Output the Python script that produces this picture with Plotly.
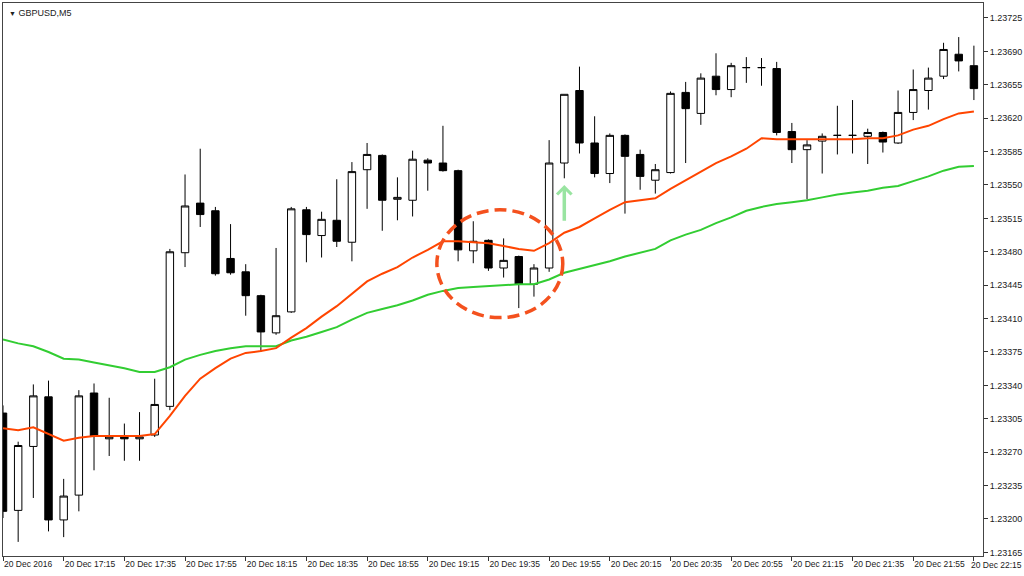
import plotly.graph_objects as go

# GBPUSD M5 bars, 20 Dec 2016 16:55 .. 22:15 (65 bars)
opens = [1.23311, 1.23209, 1.23276, 1.23328, 1.23199, 1.23225, 1.23332, 1.23284, 1.23286, 1.23284,
         1.23288, 1.23318, 1.23479, 1.23531, 1.23523, 1.23473, 1.23459, 1.23434, 1.23395, 1.23417,
         1.23524, 1.23497, 1.23513, 1.23490, 1.23566, 1.23581, 1.23535, 1.23534, 1.23576, 1.23573,
         1.23565, 1.23481, 1.23492, 1.23463, 1.23475, 1.23446, 1.23463, 1.23573, 1.23649, 1.23594,
         1.23562, 1.23602, 1.23582, 1.23555, 1.23563, 1.23647, 1.23625, 1.23664, 1.23650, 1.23673,
         1.23673, 1.23672, 1.23606, 1.23587, 1.23596, 1.23602, 1.23602, 1.23601, 1.23605, 1.23594,
         1.23626, 1.23649, 1.23664, 1.23687, 1.23675]
highs = [1.23319, 1.23281, 1.23341, 1.23345, 1.23242, 1.23335, 1.23342, 1.23327, 1.23300, 1.23312,
         1.23347, 1.23483, 1.23561, 1.23588, 1.23527, 1.23509, 1.23467, 1.23435, 1.23484, 1.23527,
         1.23527, 1.23522, 1.23556, 1.23574, 1.23594, 1.23582, 1.23558, 1.23586, 1.23578, 1.23612,
         1.23566, 1.23512, 1.23493, 1.23494, 1.23476, 1.23467, 1.23597, 1.23645, 1.23674, 1.23622,
         1.23604, 1.23603, 1.23587, 1.23572, 1.23648, 1.23658, 1.23667, 1.23688, 1.23678, 1.23684,
         1.23683, 1.23679, 1.23615, 1.23597, 1.23604, 1.23633, 1.23639, 1.23609, 1.23606, 1.23649,
         1.23671, 1.23673, 1.23699, 1.23705, 1.23696]
lows = [1.23201, 1.23176, 1.23222, 1.23187, 1.23181, 1.23208, 1.23251, 1.23266, 1.23261, 1.23261,
        1.23286, 1.23314, 1.23464, 1.23506, 1.23455, 1.23456, 1.23413, 1.23375, 1.23393, 1.23416,
        1.23469, 1.23474, 1.23485, 1.23470, 1.23525, 1.23502, 1.23513, 1.23517, 1.23544, 1.23564,
        1.23470, 1.23468, 1.23460, 1.23453, 1.23421, 1.23433, 1.23459, 1.23557, 1.23583, 1.23558,
        1.23552, 1.23520, 1.23545, 1.23541, 1.23562, 1.23573, 1.23613, 1.23644, 1.23642, 1.23657,
        1.23654, 1.23602, 1.23573, 1.23535, 1.23562, 1.23582, 1.23583, 1.23572, 1.23584, 1.23593,
        1.23618, 1.23629, 1.23661, 1.23669, 1.23639]
closes = [1.23208, 1.23277, 1.23329, 1.23199, 1.23224, 1.23329, 1.23287, 1.23286, 1.23284, 1.23286,
          1.23320, 1.23480, 1.23528, 1.23519, 1.23457, 1.23458, 1.23434, 1.23396, 1.23413, 1.23525,
          1.23498, 1.23514, 1.23491, 1.23564, 1.23582, 1.23534, 1.23537, 1.23577, 1.23573, 1.23565,
          1.23482, 1.23491, 1.23463, 1.23471, 1.23446, 1.23463, 1.23573, 1.23645, 1.23594, 1.23562,
          1.23602, 1.23580, 1.23559, 1.23566, 1.23646, 1.23630, 1.23662, 1.23650, 1.23675, 1.23673,
          1.23673, 1.23605, 1.23587, 1.23592, 1.23601, 1.23602, 1.23602, 1.23605, 1.23595, 1.23626,
          1.23650, 1.23662, 1.23692, 1.23680, 1.23651]

# fast (red) and slow (green) moving averages
ma_fast = [1.23295, 1.23293, 1.23296, 1.23289, 1.23282, 1.23285, 1.23287, 1.23287, 1.23287, 1.23287,
           1.23289, 1.23308, 1.23329, 1.23347, 1.23358, 1.23368, 1.23374, 1.23376, 1.23379, 1.23390,
           1.23400, 1.23412, 1.23423, 1.23436, 1.23449, 1.23457, 1.23464, 1.23474, 1.23482, 1.23491,
           1.23491, 1.23490, 1.23489, 1.23486, 1.23483, 1.23481, 1.23489, 1.23500, 1.23506, 1.23515,
           1.23524, 1.23532, 1.23534, 1.23536, 1.23546, 1.23555, 1.23564, 1.23573, 1.23580, 1.23588,
           1.23599, 1.23598, 1.23598, 1.23598, 1.23598, 1.23598, 1.23598, 1.23599, 1.23599, 1.23602,
           1.23608, 1.23612, 1.23619, 1.23625, 1.23627]
ma_slow = [1.23388, 1.23384, 1.23381, 1.23375, 1.23368, 1.23367, 1.23364, 1.23361, 1.23358, 1.23354,
           1.23354, 1.23359, 1.23367, 1.23372, 1.23376, 1.23379, 1.23381, 1.23381, 1.23381, 1.23387,
           1.23391, 1.23396, 1.23401, 1.23409, 1.23416, 1.23420, 1.23424, 1.23429, 1.23435, 1.23439,
           1.23442, 1.23443, 1.23444, 1.23445, 1.23446, 1.23446, 1.23451, 1.23458, 1.23462, 1.23466,
           1.23470, 1.23475, 1.23479, 1.23483, 1.23492, 1.23498, 1.23503, 1.23510, 1.23516, 1.23523,
           1.23527, 1.23530, 1.23532, 1.23534, 1.23537, 1.23540, 1.23542, 1.23544, 1.23547, 1.23549,
           1.23554, 1.23559, 1.23565, 1.23569, 1.23570]

tick_labels = ["20 Dec 2016", "20 Dec 17:15", "20 Dec 17:35", "20 Dec 17:55", "20 Dec 18:15",
               "20 Dec 18:35", "20 Dec 18:55", "20 Dec 19:15", "20 Dec 19:35", "20 Dec 19:55",
               "20 Dec 20:15", "20 Dec 20:35", "20 Dec 20:55", "20 Dec 21:15", "20 Dec 21:35",
               "20 Dec 21:55", "20 Dec 22:15"]

bars = list(range(len(opens)))
tick_pos = bars[::4]

# crossover highlight (circle) and signal arrow
circle_x = (28.6, 36.9)
circle_y = (1.23411, 1.23524)
arrow_bar = 37
arrow_from, arrow_to = 1.23511, 1.23550

fig = go.Figure()

fig.add_trace(go.Candlestick(
    x=bars, open=opens, high=highs, low=lows, close=closes,
    increasing=dict(line=dict(color="black", width=1), fillcolor="white"),
    decreasing=dict(line=dict(color="black", width=1), fillcolor="black"),
    whiskerwidth=0, hoverinfo="skip"))

fig.add_trace(go.Scatter(x=bars, y=ma_slow, mode="lines",
                         line=dict(color="#32CD32", width=2), hoverinfo="skip"))
fig.add_trace(go.Scatter(x=bars, y=ma_fast, mode="lines",
                         line=dict(color="#FF4500", width=2), hoverinfo="skip"))

fig.add_shape(type="circle", xref="x", yref="y",
              x0=circle_x[0], x1=circle_x[1], y0=circle_y[0], y1=circle_y[1],
              line=dict(color="#F4511E", width=3.5, dash="12px,6px"))

fig.add_annotation(x=arrow_bar, y=arrow_to, ax=arrow_bar, ay=arrow_from,
                   xref="x", yref="y", axref="x", ayref="y", text="",
                   showarrow=True, arrowhead=4, arrowsize=0.8, arrowwidth=3.5,
                   arrowcolor="rgba(120,220,130,0.75)")

fig.add_annotation(x=0.004, y=0.995, xref="paper", yref="paper", xanchor="left", yanchor="top",
                   text="<span style='font-size:7px'>▼</span> GBPUSD,M5", showarrow=False,
                   font=dict(size=9, color="#222"))

# last time label would run off the page, so it is pinned to the right edge like MT4 does
fig.add_annotation(x=1.0415, y=0, xref="paper", yref="paper", xanchor="right", yanchor="top",
                   yshift=-2, text=tick_labels[-1], showarrow=False,
                   font=dict(size=8.5, color="#1a1a1a"))

fig.update_layout(
    width=1024, height=576,
    margin=dict(l=3, r=41, t=3, b=20),
    paper_bgcolor="white", plot_bgcolor="white",
    showlegend=False, hovermode=False,
    font=dict(family="Liberation Sans, Arial", size=9, color="#1a1a1a"),
)
fig.update_xaxes(range=[0, 64.6], tickvals=tick_pos, ticktext=tick_labels[:-1] + [""],
                 tickangle=0, automargin=False, ticklabeloverflow="allow",
                 ticklabelposition="outside right", ticks="outside", ticklen=4,
                 tickfont=dict(size=8.5),
                 tickcolor="#333", showgrid=False, zeroline=False,
                 showline=True, mirror=True, linecolor="#444", linewidth=1,
                 rangeslider=dict(visible=False))
fig.update_yaxes(range=[1.231612, 1.237407], side="right", tick0=1.23165, dtick=0.00035,
                 tickformat=".5f", ticks="outside", ticklen=4, tickcolor="#333",
                 automargin=False, showgrid=False, zeroline=False,
                 showline=True, mirror=True, linecolor="#444", linewidth=1)

# drop the browser's default page margin so the figure fills the window
fig.write_html("out.html", config={"displayModeBar": False},
               post_script="document.body.style.margin='0';")
